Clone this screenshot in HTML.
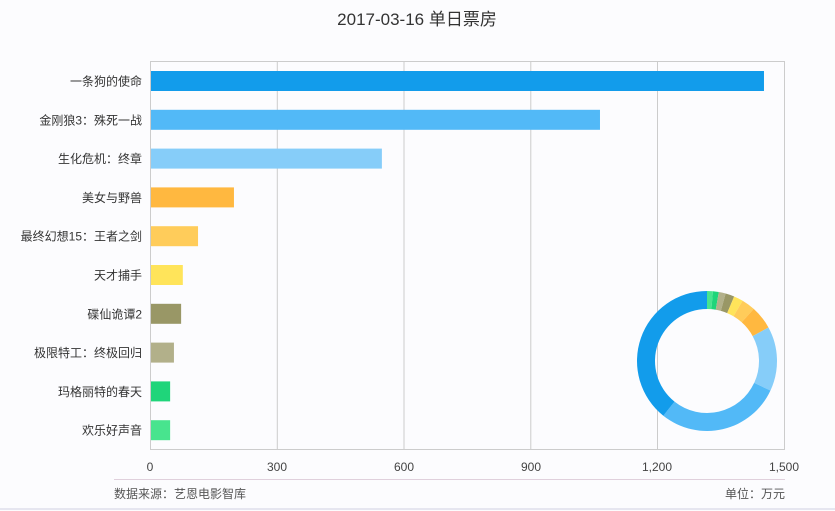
<!DOCTYPE html>
<html><head><meta charset="utf-8"><style>
body{margin:0;background:#fcfcfe;}
svg{display:block;font-family:"Liberation Sans","Noto Sans CJK SC",sans-serif;}
</style></head><body>
<svg id="s" width="835" height="511" xmlns="http://www.w3.org/2000/svg">
<rect x="0" y="0" width="835" height="511" fill="#fcfcfe"/>
<line x1="0" y1="509" x2="835" y2="509" stroke="#e6e6f0" stroke-width="2"/>
<text x="417" y="25" text-anchor="middle" font-size="17" fill="#333">2017-03-16 单日票房</text>
<rect x="150.5" y="61.5" width="634" height="388" fill="none" stroke="#ccc"/>
<g stroke="#ccc"><line x1="277.3" y1="61" x2="277.3" y2="449"/><line x1="404" y1="61" x2="404" y2="449"/><line x1="530.8" y1="61" x2="530.8" y2="449"/><line x1="657.5" y1="61" x2="657.5" y2="449"/></g>
<g font-size="12" fill="#444" text-anchor="middle">
<text x="150" y="471">0</text><text x="277" y="471">300</text><text x="404" y="471">600</text><text x="531" y="471">900</text><text x="657" y="471">1,200</text><text x="784" y="471">1,500</text></g>
<line x1="114" y1="479.5" x2="785" y2="479.5" stroke="#e0d0dc"/>
<text x="114" y="498" font-size="12" fill="#555">数据来源：艺恩电影智库</text>
<text x="785" y="498" font-size="12" fill="#555" text-anchor="end">单位：万元</text>
<g id="bars"></g>
<g id="donut"></g>
</svg>
<script>
var d=[["一条狗的使命",1455,"#129ceb"],["金刚狼3：殊死一战",1067,"#52b9f7"],["生化危机：终章",551,"#86cdf9"],["美女与野兽",201,"#ffb840"],["最终幻想15：王者之剑",116,"#ffcc5a"],["天才捕手",80,"#ffe45a"],["碟仙诡谭2",76,"#999766"],["极限特工：终极回归",59,"#b2b08a"],["玛格丽特的春天",50,"#1fd57a"],["欢乐好声音",50,"#48e48e"]];
var ns="http://www.w3.org/2000/svg",b=document.getElementById("bars"),g=document.getElementById("donut");
function el(t,a,p,txt){var e=document.createElementNS(ns,t);for(var k in a)e.setAttribute(k,a[k]);if(txt)e.textContent=txt;p.appendChild(e);return e;}
var sc=634/1500;
d.forEach(function(r,i){var cy=81+i*38.8;
el("rect",{x:151,y:cy-10,width:r[1]*sc-2,height:20,fill:r[2]},b);
el("text",{x:142,y:cy+4.5,"font-size":12,fill:"#333","text-anchor":"end"},b,r[0]);});
var tot=0;d.forEach(function(r){tot+=r[1];});
var cx=707,cy=361,R1=70,R0=52,a=0;
function pt(r,t){return [cx+r*Math.sin(t),cy-r*Math.cos(t)];}
for(var i=d.length-1;i>=0;i--){var s=a,e=a+d[i][1]/tot*2*Math.PI;a=e;
var lg=(e-s)>Math.PI?1:0,p1=pt(R1,s),p2=pt(R1,e),p3=pt(R0,e),p4=pt(R0,s);
el("path",{d:"M"+p1+"A"+R1+","+R1+" 0 "+lg+" 1 "+p2+"L"+p3+"A"+R0+","+R0+" 0 "+lg+" 0 "+p4+"Z",fill:d[i][2]},g);}
</script>
</body></html>
